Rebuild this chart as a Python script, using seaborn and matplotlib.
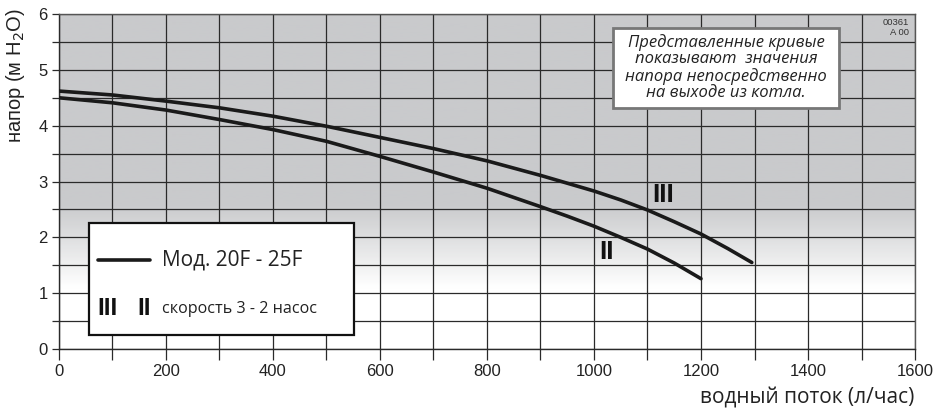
import numpy as np
import pandas as pd
import matplotlib.pyplot as plt
import matplotlib.patches as patches
from matplotlib.colors import LinearSegmentedColormap
import seaborn as sns

# Data
flow_iii = [0, 100, 200, 300, 400, 500, 600, 700, 800, 900, 950, 1000, 1050,
            1100, 1150, 1200, 1250, 1295]
head_iii = [4.62, 4.55, 4.44, 4.32, 4.17, 3.99, 3.79, 3.59, 3.37, 3.11, 2.97,
            2.83, 2.67, 2.49, 2.28, 2.06, 1.80, 1.55]
flow_ii = [0, 100, 200, 300, 400, 500, 600, 700, 800, 900, 950, 1000, 1050,
           1100, 1150, 1200]
head_ii = [4.5, 4.41, 4.28, 4.11, 3.93, 3.72, 3.45, 3.17, 2.88, 2.55, 2.38,
           2.2, 2.0, 1.79, 1.54, 1.26]
x_ticks = [0, 200, 400, 600, 800, 1000, 1200, 1400, 1600]
y_ticks = [0, 1, 2, 3, 4, 5, 6]

df = pd.concat([
    pd.DataFrame({"flow": flow_iii, "head": head_iii, "speed": "III"}),
    pd.DataFrame({"flow": flow_ii, "head": head_ii, "speed": "II"}),
])

sns.set_style("white")
plt.rcParams["font.family"] = ["Liberation Sans", "DejaVu Sans"]

fig = plt.figure(figsize=(9.48, 4.17), dpi=100)
ax = fig.add_axes([0.0622, 0.163, 0.903, 0.8034])

# gray-to-white background gradient
cmap = LinearSegmentedColormap.from_list(
    "bg", [(0, "white"), (0.18, "white"), (0.43, "#c9cacc"), (1, "#c9cacc")])
grad = np.linspace(0, 1, 300).reshape(-1, 1)
ax.imshow(grad, extent=[0, 1600, 0, 6], origin="lower", aspect="auto",
          cmap=cmap, zorder=0)

sns.lineplot(data=df, x="flow", y="head", units="speed", estimator=None,
             color="#1a1a1a", linewidth=2.6, sort=False, ax=ax, zorder=3,
             solid_joinstyle="round")

ax.set_xlim(0, 1600)
ax.set_ylim(0, 6)
ax.set_xticks(x_ticks)
ax.set_yticks(y_ticks)
ax.set_xticks(np.arange(0, 1601, 100), minor=True)
ax.set_yticks(np.arange(0, 6.01, 0.5), minor=True)
ax.grid(which="both", color="#2a2a2a", linewidth=0.9)
ax.set_axisbelow(True)
ax.tick_params(axis="x", which="both", direction="out", length=8, width=0.9,
               color="#2a2a2a", labelsize=12, labelcolor="#222222", pad=3,
               bottom=True)
ax.tick_params(axis="y", which="both", direction="out", length=5, width=0.9,
               color="#2a2a2a", labelsize=12, labelcolor="#222222", pad=3,
               left=True)
for s in ax.spines.values():
    s.set_color("#555555")
    s.set_linewidth(1.0)
ax.spines["left"].set_color("#2a2a2a")
ax.spines["bottom"].set_color("#2a2a2a")

ax.set_xlabel("")
ax.set_ylabel("")
fig.text(16 / 948, 1 - 76 / 417, "напор (м H$_2$O)", rotation=90,
         ha="center", va="center", fontsize=14.5, color="#222222")
fig.text(0.965, 0.02, "водный поток (л/час)", ha="right", va="bottom",
         fontsize=15, family=["Open Sans", "DejaVu Sans"], color="#222222")

# speed labels on the curves
ax.text(1130, 2.75, "III", fontsize=19, fontweight="bold", ha="center",
        va="center", color="#111111", zorder=4)
ax.text(1023, 1.73, "II", fontsize=19, fontweight="bold", ha="center",
        va="center", color="#111111", zorder=4)

# legend box
ax.add_patch(patches.Rectangle((57, 0.25), 494, 2.01, facecolor="white",
                               edgecolor="#111111", linewidth=1.6, zorder=5))
ax.plot([73, 170], [1.6, 1.6], color="#1a1a1a", linewidth=2.6, zorder=6)
ax.text(192, 1.6, "Мод. 20F - 25F", fontsize=15, va="center",
        family=["Open Sans", "DejaVu Sans"], color="#222222", zorder=6)
ax.text(72, 0.72, "III", fontsize=17.5, fontweight="bold", va="center",
        color="#111111", zorder=6)
ax.text(146, 0.72, "II", fontsize=17.5, fontweight="bold", va="center",
        color="#111111", zorder=6)
ax.text(192, 0.72, "скорость 3 - 2 насос", fontsize=11.6, va="center",
        family=["Open Sans", "DejaVu Sans"], color="#222222", zorder=6)

# note box
ax.add_patch(patches.Rectangle((1036, 4.32), 422, 1.43, facecolor="white",
                               edgecolor="#777777", linewidth=2.0, zorder=5))
ax.text(1247, 5.04, "Представленные кривые\nпоказывают  значения\n"
        "напора непосредственно\nна выходе из котла.",
        ha="center", va="center", fontsize=12, style="italic",
        family=["Open Sans", "DejaVu Sans"], color="#222222",
        linespacing=1.05, zorder=6)

ax.text(1588, 5.93, "00361\nA 00", ha="right", va="top", fontsize=6.8,
        color="#333333", zorder=6)

fig.savefig("out.png", dpi=100)
